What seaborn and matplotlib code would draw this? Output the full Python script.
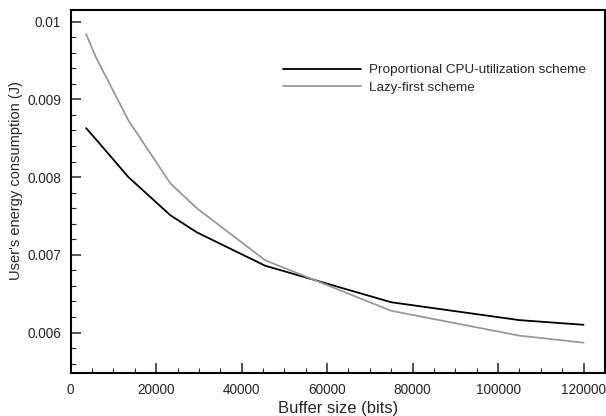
import numpy as np
import pandas as pd
import seaborn as sns
import matplotlib.pyplot as plt
from matplotlib.ticker import MultipleLocator, FuncFormatter

sns.set_style("white")
plt.rcParams["font.family"] = ["Liberation Sans", "DejaVu Sans"]

# values
buffer_bits = [3600, 6000, 13500, 23300, 29500, 45500, 75000, 105000, 120000]
proportional = [0.00863, 0.00848, 0.00800, 0.00751, 0.00729, 0.00686, 0.00639, 0.00616, 0.00610]
lazy_first = [0.00984, 0.00953, 0.00873, 0.00792, 0.00760, 0.00693, 0.00628, 0.00596, 0.00587]
series_names = ["Proportional CPU-utilization scheme", "Lazy-first scheme"]

df = pd.concat([
    pd.DataFrame({"bits": buffer_bits, "energy": proportional, "scheme": series_names[0]}),
    pd.DataFrame({"bits": buffer_bits, "energy": lazy_first, "scheme": series_names[1]}),
])

fig = plt.figure(figsize=(6.06, 4.16), dpi=100)
ax = fig.add_axes([0.1167, 0.1034, 0.8815, 0.8726])
sns.lineplot(data=df, x="bits", y="energy", hue="scheme",
             palette=["black", "#999999"], linewidth=1.3, ax=ax)

ax.set_xlim(0, 125000)
ax.set_ylim(0.00548, 0.01015)
ax.xaxis.set_major_locator(MultipleLocator(20000))
ax.xaxis.set_minor_locator(MultipleLocator(5000))
ax.yaxis.set_major_locator(MultipleLocator(0.001))
ax.yaxis.set_minor_locator(MultipleLocator(0.0002))
ax.xaxis.set_major_formatter(FuncFormatter(lambda v, p: "%d" % v))
ax.yaxis.set_major_formatter(FuncFormatter(lambda v, p: ("%.3f" % v).rstrip("0")))
ax.tick_params(which="major", direction="in", length=7, width=1.1, labelsize=9.8,
               bottom=True, left=True, top=False, right=False, pad=7)
ax.tick_params(which="minor", direction="in", length=3.5, width=0.8,
               bottom=True, left=True, top=False, right=False)
for s in ax.spines.values():
    s.set_linewidth(1.5)
    s.set_color("black")

ax.set_xlabel("Buffer size (bits)", fontsize=12, labelpad=3)
ax.set_ylabel("User's energy consumption (J)", fontsize=10.5)
ax.yaxis.set_label_coords(-0.09, 0.53)

leg = ax.legend(loc="upper left", bbox_to_anchor=(0.375, 0.885), frameon=False,
                fontsize=9.7, handlelength=5.8, handletextpad=0.6, labelspacing=0.38,
                title=None)

fig.savefig("out.png", dpi=100)
